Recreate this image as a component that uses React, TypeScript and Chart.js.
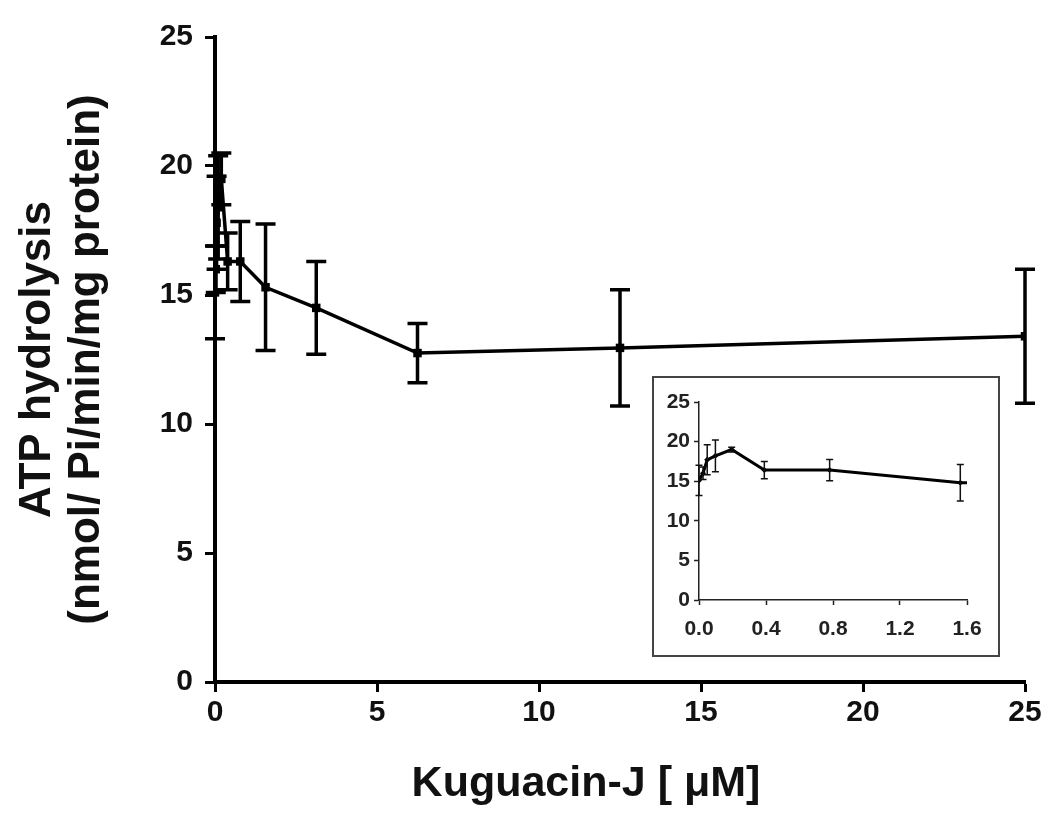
import React, { useEffect, useRef } from "react";
import { Chart, registerables } from "chart.js";

Chart.register(...registerables);

// ---- data ----
const concentrations = [0, 0.024, 0.049, 0.098, 0.195, 0.39, 0.78, 1.56, 3.125, 6.25, 12.5, 25];
const mainMeans = [15.1, 16.0, 17.8, 18.4, 19.5, 16.3, 16.3, 15.3, 14.5, 12.75, 12.95, 13.4];
const mainErrors = [1.8, 0.9, 1.8, 2.0, 1.0, 1.1, 1.55, 2.45, 1.8, 1.15, 2.25, 2.6];

const insetConcentrations = [0, 0.024, 0.049, 0.098, 0.195, 0.39, 0.78, 1.56, 3.125];
const insetMeans = [15.1, 16.0, 17.7, 18.2, 19.0, 16.4, 16.4, 14.8, 14.5];
const insetErrors = [1.9, 0.8, 1.9, 2.0, 0.3, 1.1, 1.35, 2.3, 1.8];

const mainXTicks = [0, 5, 10, 15, 20, 25];
const yTickValues = [0, 5, 10, 15, 20, 25];
const insetXTicks = [0, 0.4, 0.8, 1.2, 1.6];

const xTitle = "Kuguacin-J [ \u03bcM]";
const yTitle = ["ATP hydrolysis", "(nmol/ Pi/min/mg protein)"];

const FONT = "'Liberation Sans', Arial, Helvetica, sans-serif";

const errorBarPlugin = {
  id: "errorBars",
  afterDatasetsDraw(chart: any, _args: any, opts: any) {
    const errs: number[] = opts.errors || [];
    const meta = chart.getDatasetMeta(0);
    const ds = chart.data.datasets[0];
    const ys = chart.scales.y;
    const xs = chart.scales.x;
    const ctx = chart.ctx;
    ctx.save();
    ctx.strokeStyle = opts.color || "#000";
    ctx.lineWidth = opts.width || 2;
    ctx.lineCap = "butt";
    meta.data.forEach((pt: any, i: number) => {
      const d = ds.data[i];
      if (d.x > xs.max) return;
      const e = errs[i];
      if (!e) return;
      const x = pt.x;
      const top = ys.getPixelForValue(d.y + e);
      const bot = ys.getPixelForValue(d.y - e);
      const c = opts.cap || 5;
      ctx.beginPath();
      ctx.moveTo(x, top);
      ctx.lineTo(x, bot);
      ctx.moveTo(x - c, top);
      ctx.lineTo(x + c, top);
      ctx.moveTo(x - c, bot);
      ctx.lineTo(x + c, bot);
      ctx.stroke();
    });
    ctx.restore();
  },
};

const xTitlePlugin = {
  id: "xTitleText",
  afterDraw(chart: any, _args: any, opts: any) {
    if (!opts.text) return;
    const ctx = chart.ctx;
    ctx.save();
    ctx.fillStyle = "#111";
    ctx.font = `bold ${opts.size}px ${FONT}`;
    ctx.textAlign = "center";
    ctx.textBaseline = "middle";
    ctx.fillText(opts.text, opts.x, opts.y);
    ctx.restore();
  },
};

export default function App() {
  const mainRef = useRef<HTMLCanvasElement>(null);
  const insetRef = useRef<HTMLCanvasElement>(null);

  useEffect(() => {
    const mainChart = new Chart(mainRef.current as HTMLCanvasElement, {
      type: "line",
      data: {
        datasets: [
          {
            data: concentrations.map((c, i) => ({ x: c, y: mainMeans[i] })),
            borderColor: "#000",
            backgroundColor: "#000",
            borderWidth: 3.5,
            pointRadius: 6,
            pointStyle: "rect",
            pointBorderWidth: 0,
            tension: 0,
          },
        ],
      },
      options: {
        animation: false,
        responsive: true,
        maintainAspectRatio: false,
        layout: { padding: { top: 37, right: 25, left: 0, bottom: 0 } },
        plugins: {
          legend: { display: false },
          tooltip: { enabled: false },
          errorBars: { errors: mainErrors, width: 3.5, cap: 10 },
          xTitleText: { text: xTitle, x: 586, y: 784, size: 43 },
        } as any,
        scales: {
          x: {
            type: "linear",
            min: 0,
            max: 25,
            afterBuildTicks: (s: any) => {
              s.ticks = mainXTicks.map((v) => ({ value: v }));
            },
            afterFit: (s: any) => {
              s.height = 149;
            },
            border: { display: true, color: "#000", width: 4 },
            grid: { display: true, drawOnChartArea: false, drawTicks: true, tickLength: 10, tickWidth: 3, tickColor: "#000" },
            ticks: { color: "#111", font: { family: FONT, size: 30, weight: "bold" }, padding: 3, maxRotation: 0 },
          },
          y: {
            type: "linear",
            min: 0,
            max: 25,
            afterBuildTicks: (s: any) => {
              s.ticks = yTickValues.map((v) => ({ value: v }));
            },
            afterFit: (s: any) => {
              s.width = 215;
            },
            border: { display: true, color: "#000", width: 4 },
            grid: { display: true, drawOnChartArea: false, drawTicks: true, tickLength: 10, tickWidth: 3, tickColor: "#000" },
            ticks: { color: "#111", font: { family: FONT, size: 30, weight: "bold" }, padding: 12 },
            title: {
              display: true,
              text: yTitle,
              color: "#111",
              font: { family: FONT, size: 44, weight: "bold", lineHeight: 1.1 },
              padding: { top: 14, bottom: 0 },
            },
          },
        },
      } as any,
      plugins: [errorBarPlugin, xTitlePlugin],
    });

    const insetChart = new Chart(insetRef.current as HTMLCanvasElement, {
      type: "line",
      data: {
        datasets: [
          {
            data: insetConcentrations.map((c, i) => ({ x: c, y: insetMeans[i] })),
            borderColor: "#000",
            backgroundColor: "#000",
            borderWidth: 3,
            pointRadius: 3,
            pointStyle: "rectRot",
            pointBorderWidth: 0,
            tension: 0,
          },
        ],
      },
      options: {
        animation: false,
        responsive: true,
        maintainAspectRatio: false,
        layout: { padding: { top: 24, right: 31, left: 0, bottom: 0 } },
        plugins: {
          legend: { display: false },
          tooltip: { enabled: false },
          errorBars: { errors: insetErrors, width: 1.5, cap: 3.5, color: "#111" },
        } as any,
        scales: {
          x: {
            type: "linear",
            min: 0,
            max: 1.6,
            afterBuildTicks: (s: any) => {
              s.ticks = insetXTicks.map((v) => ({ value: v }));
            },
            afterFit: (s: any) => {
              s.height = 55;
            },
            border: { display: true, color: "#222", width: 1.5 },
            grid: { display: true, drawOnChartArea: false, drawTicks: true, tickLength: 5, tickWidth: 1.5, tickColor: "#222" },
            ticks: {
              color: "#222",
              font: { family: FONT, size: 21, weight: "bold" },
              padding: 12,
              maxRotation: 0,
              callback: (v: any) => Number(v).toFixed(1),
            },
          },
          y: {
            type: "linear",
            min: 0,
            max: 25,
            afterBuildTicks: (s: any) => {
              s.ticks = yTickValues.map((v) => ({ value: v }));
            },
            afterFit: (s: any) => {
              s.width = 45;
            },
            border: { display: true, color: "#222", width: 1.5 },
            grid: { display: true, drawOnChartArea: false, drawTicks: true, tickLength: 5, tickWidth: 1.5, tickColor: "#222" },
            ticks: { color: "#222", font: { family: FONT, size: 21, weight: "bold" }, padding: 4 },
          },
        },
      } as any,
      plugins: [errorBarPlugin],
    });

    return () => {
      mainChart.destroy();
      insetChart.destroy();
    };
  }, []);

  return (
    <div style={{ position: "absolute", left: 0, top: 0, width: 1050, height: 831, background: "#fff" }}>
      <div style={{ position: "absolute", left: 0, top: 0, width: 1050, height: 831 }}>
        <canvas ref={mainRef} />
      </div>
      <div
        style={{
          position: "absolute",
          left: 652,
          top: 376,
          width: 348,
          height: 281,
          boxSizing: "border-box",
          border: "2px solid #444",
          background: "#fff",
        }}
      >
        <div style={{ position: "absolute", left: 0, top: 0, width: 344, height: 277 }}>
          <canvas ref={insetRef} />
        </div>
      </div>
    </div>
  );
}
